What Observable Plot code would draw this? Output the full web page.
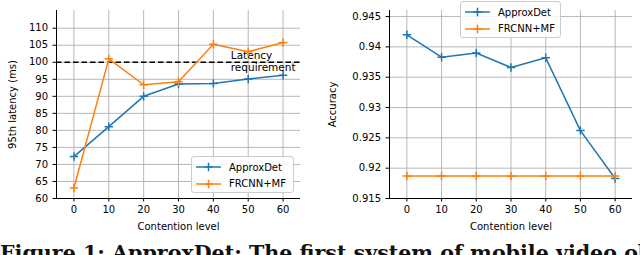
<!DOCTYPE html>
<html>
<head>
<meta charset="utf-8">
<script src="https://cdn.jsdelivr.net/npm/d3@7"></script>
<script src="https://cdn.jsdelivr.net/npm/@observablehq/plot@0.6"></script>
<style>
  body { margin: 0; background: white; }
  #wrap { position: relative; width: 640px; height: 255px; overflow: hidden; background: white; }
  #plots { display: flex; position: absolute; left: 0; top: 0; }
  .legend { position: absolute; background: rgba(255,255,255,0.85); border: 1px solid #cccccc; border-radius: 3px;
            font-family: "DejaVu Sans"; font-size: 10px; color: #000; box-sizing: border-box; }
  .legend .row { position: absolute; left: 0; height: 14px; display: flex; align-items: center; }
  .legend svg { display: block; }
  #caption { position: absolute; left: 0; top: 243px; white-space: nowrap; font-family: "DejaVu Serif", serif;
             font-weight: bold; font-size: 20.6px; line-height: 20.6px; color: #111; }
</style>
</head>
<body>
<div id="wrap">
  <div id="plots"></div>
  <div id="caption">Figure 1: ApproxDet: The first system of mobile video object detection</div>
</div>
<script>
// ---- data ----
const contention = [0, 10, 20, 30, 40, 50, 60];
const seriesNames = ["ApproxDet", "FRCNN+MF"];
const seriesColors = ["#1f77b4", "#ff7f0e"];
const latencyApproxDet = [72.3, 81.1, 90.0, 93.6, 93.8, 95.1, 96.2];
const latencyFRCNN = [63.1, 101.0, 93.4, 94.3, 105.3, 103.1, 105.8];
const accuracyApproxDet = [0.9420, 0.9383, 0.9390, 0.9366, 0.9382, 0.9262, 0.9183];
const accuracyFRCNN = [0.9187, 0.9187, 0.9187, 0.9187, 0.9187, 0.9187, 0.9187];
const latencyRequirement = [100];
const requirementLabel = ["Latency\nrequirement"];
const requirementLabelX = [45];
const xTicks = [0, 10, 20, 30, 40, 50, 60];
const latencyTicks = [60, 65, 70, 75, 80, 85, 90, 95, 100, 105, 110];
const accuracyTicks = [0.915, 0.92, 0.925, 0.93, 0.935, 0.94, 0.945];
const xDomain = [-5, 65];
const latencyDomain = [60, 115.2];
const accuracyDomain = [0.915, 0.946];

const plusSymbol = {
  draw(context, size) {
    const r = Math.sqrt(size / Math.PI);
    context.moveTo(-r, 0); context.lineTo(r, 0);
    context.moveTo(0, -r); context.lineTo(0, r);
  }
};

function rows(a, b) {
  const out = [];
  contention.forEach((c, i) => out.push({x: c, y: a[i], s: seriesNames[0]}));
  contention.forEach((c, i) => out.push({x: c, y: b[i], s: seriesNames[1]}));
  return out;
}

function seriesMarks(data) {
  const marks = [];
  seriesNames.forEach((name, i) => {
    const d = data.filter(r => r.s === name);
    marks.push(Plot.line(d, {x: "x", y: "y", stroke: seriesColors[i], strokeWidth: 1.5}));
    marks.push(Plot.dot(d, {x: "x", y: "y", symbol: plusSymbol, r: 4.2, stroke: seriesColors[i], strokeWidth: 1.5, fill: "none"}));
  });
  return marks;
}

const commonStyle = {fontFamily: "DejaVu Sans", fontSize: "10px", background: "white", color: "black", overflow: "visible"};

function chart({data, yDomain, yTicks, yLabel, marginLeft, marginRight, labelOffsetY, extra = [], fmt}) {
  return Plot.plot({
    width: 320, height: 238,
    marginTop: 10, marginBottom: 40, marginLeft, marginRight,
    style: commonStyle,
    x: {domain: xDomain, ticks: xTicks, tickSize: 3.5, tickPadding: 3.5, label: "Contention level",
        labelAnchor: "center", labelOffset: 31, labelArrow: "none", tickFormat: d => String(d)},
    y: {domain: yDomain, ticks: yTicks, tickSize: 3.5, tickPadding: 5, label: yLabel,
        labelAnchor: "center", labelOffset: labelOffsetY, labelArrow: "none", tickFormat: fmt},
    marks: [
      Plot.ruleX(xTicks, {stroke: "#b0b0b0", strokeWidth: 0.9}),
      Plot.ruleY(yTicks, {stroke: "#b0b0b0", strokeWidth: 0.9}),
      ...extra,
      ...seriesMarks(data),
      Plot.ruleX([xDomain[0]], {stroke: "black", strokeWidth: 1}),
      Plot.ruleY([yDomain[0]], {stroke: "black", strokeWidth: 1})
    ]
  });
}

const left = chart({
  data: rows(latencyApproxDet, latencyFRCNN),
  yDomain: latencyDomain, yTicks: latencyTicks, yLabel: "95th latency (ms)",
  marginLeft: 56, marginRight: 20, labelOffsetY: 48, fmt: d => String(d),
  extra: [
    Plot.ruleY(latencyRequirement, {stroke: "black", strokeWidth: 1.6, strokeDasharray: "5.5,3"}),
    Plot.text(requirementLabel, {x: requirementLabelX, y: latencyRequirement, text: d => d,
      textAnchor: "start", lineAnchor: "middle", fontSize: 10.5, fill: "black", lineHeight: 1.1, dy: -1})
  ]
});
const right = chart({
  data: rows(accuracyApproxDet, accuracyFRCNN),
  yDomain: accuracyDomain, yTicks: accuracyTicks, yLabel: "Accuracy",
  marginLeft: 69, marginRight: 8, labelOffsetY: 61, fmt: d => String(d)
});

const plots = document.getElementById("plots");
plots.appendChild(left);
plots.appendChild(right);

// legends (HTML overlay), built from series arrays
function legend(x, y, w, h) {
  const box = document.createElement("div");
  box.className = "legend";
  Object.assign(box.style, {left: x + "px", top: y + "px", width: w + "px", height: h + "px"});
  seriesNames.forEach((name, i) => {
    const row = document.createElement("div");
    row.className = "row";
    row.style.top = (3 + i * 16.5) + "px";
    row.style.left = "4px";
    const sw = d3.create("svg").attr("width", 30).attr("height", 14);
    sw.append("line").attr("x1", 0).attr("x2", 25).attr("y1", 7).attr("y2", 7)
      .attr("stroke", seriesColors[i]).attr("stroke-width", 1.5);
    sw.append("path").attr("d", "M8.3,7H16.7M12.5,2.8V11.2")
      .attr("stroke", seriesColors[i]).attr("stroke-width", 1.5);
    row.appendChild(sw.node());
    const t = document.createElement("span");
    t.style.marginLeft = "3px";
    t.textContent = name;
    row.appendChild(t);
    box.appendChild(row);
  });
  document.getElementById("wrap").appendChild(box);
}
legend(191, 156, 103, 37);
legend(460, 1, 101, 37);
</script>
</body>
</html>
